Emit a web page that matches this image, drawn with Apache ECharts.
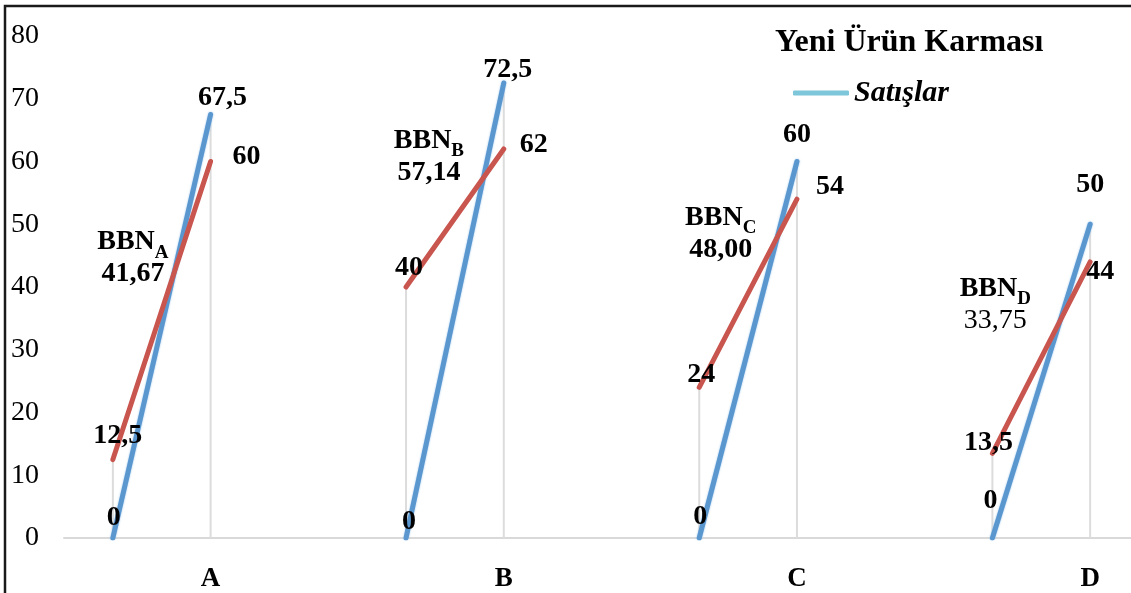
<!DOCTYPE html>
<html>
<head>
<meta charset="utf-8">
<script src="https://cdn.jsdelivr.net/npm/echarts@6/dist/echarts.min.js"></script>
<style>
html,body{margin:0;padding:0;background:#fff;overflow:hidden;width:1131px;height:593px;}
#chart{width:1139px;height:593px;}
</style>
</head>
<body>
<div id="chart"></div>
<script>
// ---- data ----
const categories = ['A', 'B', 'C', 'D'];
const salesStart = [0, 0, 0, 0];
const salesEnd = [67.5, 72.5, 60, 50];
const costStart = [12.5, 40, 24, 13.5];
const costEnd = [60, 62, 54, 44];
const bbnValues = ['41,67', '57,14', '48,00', '33,75'];
const yMin = 0, yMax = 80, yStep = 10;

// ---- layout helpers (label offsets / annotation positions) ----
const salesLabelOff = [[1,-20],[12,-17],[3,-16],[4,-13],[1,-21],[0,-27],[-2,-37],[0,-39]];
const costLabelOff  = [[5,-24],[36,-5],[3,-19],[30,-4],[2,-13],[33,-12],[-4,-11],[10,10]];
const bbnPos = [[0.205,44.9],[3.234,61.1],[6.22,48.8],[9.03,37.45]];
const bbnBold = [true, true, true, false];

const FONT = "'Liberation Serif','Times New Roman',serif";

// build slot layout: start, end, gap per category
const xLabels = [];
const salesData = [], costData = [], dropData = [];
categories.forEach((c, i) => {
  const k = i * 2;
  xLabels.push('', c);
  salesData.push({value: salesStart[i], label: {offset: salesLabelOff[k]}});
  salesData.push({value: salesEnd[i], label: {offset: salesLabelOff[k+1]}});
  costData.push({value: costStart[i], label: {offset: costLabelOff[k]}});
  costData.push({value: costEnd[i], label: {offset: costLabelOff[k+1]}});
  dropData.push(Math.max(salesStart[i], costStart[i]), Math.max(salesEnd[i], costEnd[i]));
  if (i < categories.length - 1) {
    xLabels.push('');
    salesData.push('-'); costData.push('-'); dropData.push('-');
  }
});

const fmt = p => String(p.value).replace('.', ',');

const bbnData = categories.map((c, i) => ({
  value: bbnPos[i],
  label: {
    formatter: '{b|BBN}{s|' + c + '}\n{' + (bbnBold[i] ? 'b' : 'n') + '|' + bbnValues[i] + '}'
  }
}));

const chart = echarts.init(document.getElementById('chart'), null, {renderer: 'canvas'});
chart.setOption({
  animation: false,
  backgroundColor: '#fff',
  title: {
    text: 'Yeni Ürün Karması',
    left: 775, top: 27, padding: 0,
    textStyle: {fontFamily: FONT, fontSize: 32, fontWeight: 'bold', color: '#000'}
  },
  legend: {
    left: 793, top: 78, padding: 0,
    itemWidth: 56, itemHeight: 5,
    data: [{name: 'Satışlar', icon: 'roundRect', itemStyle: {color: '#7ec6da'}}],
    textStyle: {fontFamily: FONT, fontSize: 30, fontWeight: 'bold', fontStyle: 'italic', color: '#000'}
  },
  grid: {left: 64, right: 0, top: 36, bottom: 55},
  xAxis: [{
    type: 'category',
    data: xLabels,
    boundaryGap: true,
    axisLine: {show: true, lineStyle: {color: '#d9d9d9', width: 2}},
    axisTick: {show: false},
    axisLabel: {interval: 0, margin: 28, fontFamily: FONT, fontSize: 27, fontWeight: 'bold', color: '#000'},
    splitLine: {show: false}
  }, {
    type: 'value', min: -0.5, max: 10.5, show: false
  }],
  yAxis: {
    type: 'value', min: yMin, max: yMax, interval: yStep,
    axisLine: {show: false}, axisTick: {show: false},
    splitLine: {show: false},
    axisLabel: {margin: 25, fontFamily: FONT, fontSize: 28, color: '#000'}
  },
  graphic: [{
    type: 'rect', silent: true, z: 100,
    shape: {x: 5, y: 6, width: 1300, height: 800},
    style: {fill: null, stroke: '#1a1a1a', lineWidth: 2.5}
  }],
  series: [{
    name: 'drop', type: 'bar', data: dropData, barWidth: 2, silent: true,
    itemStyle: {color: '#dcdcdc'}, z: 1
  }, {
    name: 'Satışlar', type: 'line', data: salesData, connectNulls: false,
    symbol: 'circle', symbolSize: 1, showSymbol: true,
    itemStyle: {color: '#5b97cf'},
    lineStyle: {color: '#5b97cf', width: 5, cap: 'round', shadowColor: 'rgba(140,190,235,0.9)', shadowBlur: 2},
    label: {show: true, position: 'inside', formatter: fmt, fontFamily: FONT, fontSize: 28, fontWeight: 'bold', color: '#000'},
    z: 3, silent: true
  }, {
    name: 'Maliyet', type: 'line', data: costData, connectNulls: false,
    symbol: 'circle', symbolSize: 1, showSymbol: true,
    itemStyle: {color: '#c9554f'},
    lineStyle: {color: '#c9554f', width: 5, cap: 'round'},
    label: {show: true, position: 'inside', formatter: fmt, fontFamily: FONT, fontSize: 28, fontWeight: 'bold', color: '#000'},
    z: 4, silent: true
  }, {
    name: 'BBN', type: 'scatter', xAxisIndex: 1, data: bbnData,
    symbolSize: 0, silent: true, z: 5,
    itemStyle: {opacity: 1, color: '#000'},
    label: {
      show: true, position: 'inside', align: 'center', verticalAlign: 'middle', color: '#000',
      rich: {
        b: {fontFamily: FONT, fontSize: 28, fontWeight: 'bold', color: '#000', lineHeight: 32, verticalAlign: 'bottom'},
        n: {fontFamily: FONT, fontSize: 28, fontWeight: 'normal', color: '#000', lineHeight: 32, verticalAlign: 'bottom'},
        s: {fontFamily: FONT, fontSize: 19, fontWeight: 'bold', color: '#000', lineHeight: 32, verticalAlign: 'bottom', padding: [0,0,-6,0]}
      }
    }
  }]
});
</script>
</body>
</html>
